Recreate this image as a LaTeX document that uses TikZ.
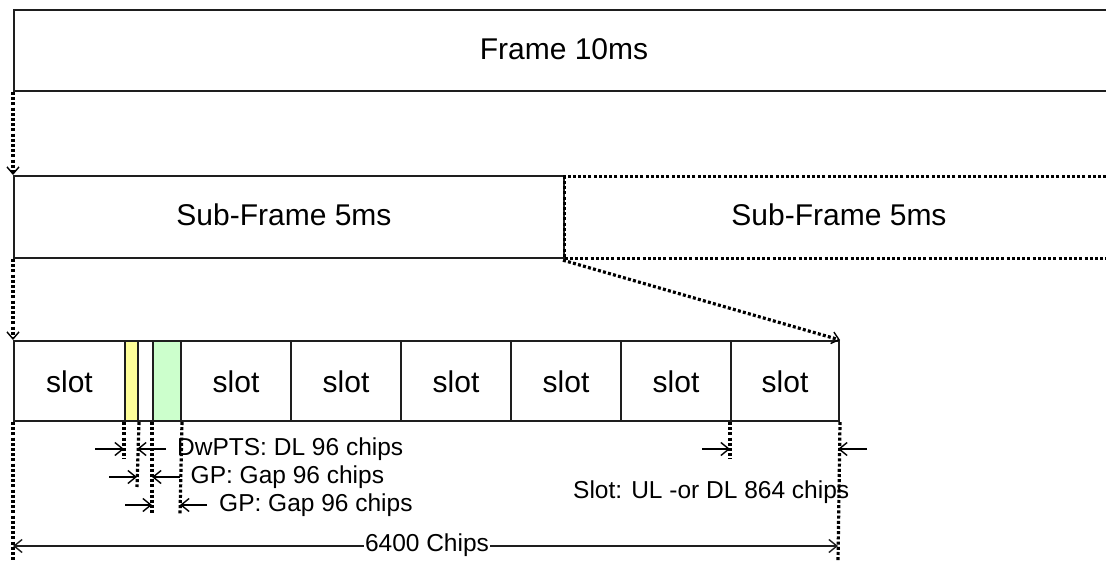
\documentclass[tikz,border=0pt]{standalone}
\usepackage{fontspec}
\setmainfont{Liberation Sans}
\usetikzlibrary{arrows.meta}
\definecolor{lineclr}{RGB}{30,30,30}
\definecolor{dwyellow}{RGB}{255,255,153}
\definecolor{upgreen}{RGB}{204,255,204}
\begin{document}
\begin{tikzpicture}[x=1pt,y=-1pt,
  bigtext/.style={font=\fontsize{30}{36}\selectfont},
  smalltext/.style={font=\fontsize{24.5}{29}\selectfont, inner sep=0pt},
  solidbox/.style={draw=lineclr, line width=2pt, inner sep=0pt, anchor=north west, bigtext},
  dotbox/.style={draw=black, line width=3.2pt, dash pattern=on 3pt off 2.2pt, inner sep=0pt, anchor=north west, bigtext},
  cell/.style={draw=lineclr, line width=2pt, inner sep=0pt, anchor=north west, minimum height=80pt, bigtext},
  dotline/.style={draw=black, line width=3.2pt, dash pattern=on 3pt off 2.2pt},
  dotarrow/.style={dotline, -{Straight Barb[length=7pt,width=12pt,line width=1.4pt]}},
  dimarrow/.style={draw=black, line width=1.5pt, -{Straight Barb[length=8pt,width=13pt,line width=1.4pt]}},
  dimboth/.style={draw=lineclr, line width=1.5pt, {Straight Barb[length=8pt,width=13pt,line width=1.4pt]}-{Straight Barb[length=8pt,width=13pt,line width=1.4pt]}}
]
\useasboundingbox (0,0) rectangle (1106,562);
\clip (0,0) rectangle (1106,562);

% frame and sub-frames
\node[solidbox, minimum width=1110pt, minimum height=81pt] (frame) at (13,9) {};
\node[bigtext, anchor=base] (frametxt) at (564,59) {Frame 10ms};
\node[solidbox, minimum width=550pt, minimum height=82pt] (sf1) at (13,175) {};
\node[bigtext, anchor=base] (sf1txt) at (284,225) {Sub-Frame 5ms};
\node[dotbox, minimum width=560pt, minimum height=82pt] (sf2) at (563,175) {};
\node[bigtext, anchor=base] (sf2txt) at (839,225) {Sub-Frame 5ms};

% slot row
\node[cell, minimum width=111pt] (c1) at (13,340) {};
\node[cell, minimum width=13pt, fill=dwyellow] (cy) at (124,340) {};
\node[cell, minimum width=15pt] (cw) at (137,340) {};
\node[cell, minimum width=28pt, fill=upgreen] (cg) at (152,340) {};
\node[cell, minimum width=110pt] (c2) at (180,340) {};
\node[cell, minimum width=110pt] (c3) at (290,340) {};
\node[cell, minimum width=110pt] (c4) at (400,340) {};
\node[cell, minimum width=110pt] (c5) at (510,340) {};
\node[cell, minimum width=110pt] (c6) at (620,340) {};
\node[cell, minimum width=108pt] (c7) at (730,340) {};
\foreach \c in {c1,c2,c3,c4,c5,c6,c7}
  \node[bigtext, anchor=base] at ([yshift=-11pt]\c.center) {slot};

% expansion arrows
\draw[dotarrow] (frame.south west) -- (sf1.north west);
\draw[dotarrow] (sf1.south west) -- (c1.north west);
\draw[dotarrow] (sf2.south west) -- (c7.north east);

% labels
\node[smalltext, anchor=base west] (dwtxt) at (177,455) {DwPTS: DL 96 chips};
\node[smalltext, anchor=base west] (gp1txt) at (190.5,483) {GP: Gap 96 chips};
\node[smalltext, anchor=base west] (gp2txt) at (219,511) {GP: Gap 96 chips};
\node[smalltext, anchor=base west] (slottxt) at (573,498) {Slot: UL -or DL 864 chips};

% dimension extension lines
\coordinate (e1) at (124,459);
\coordinate (e2) at (137,487);
\coordinate (e3) at (152,515);
\coordinate (e4) at (180,515);
\coordinate (e5) at (730,459);
\coordinate (eL) at (13,562);
\coordinate (eR) at (838,562);
\draw[dotline] (cy.south west) -- (e1);
\draw[dotline] (cy.south east) -- (e2);
\draw[dotline] (cg.south west) -- (e3);
\draw[dotline] (cg.south east) -- (e4);
\draw[dotline] (c7.south west) -- (e5);
\draw[dotline] (c1.south west) -- (eL);
\draw[dotline] (c7.south east) -- (eR);

% dimension arrows
\coordinate (a1s) at (95,449);   \coordinate (a1e) at (124,449);
\coordinate (a2s) at (166,449);  \coordinate (a2e) at (137,449);
\coordinate (b1s) at (109,477);  \coordinate (b1e) at (137,477);
\coordinate (b2s) at (180,477);  \coordinate (b2e) at (152,477);
\coordinate (g1s) at (125,505);  \coordinate (g1e) at (152,505);
\coordinate (g2s) at (207,505);  \coordinate (g2e) at (180,505);
\coordinate (s1s) at (702,449);  \coordinate (s1e) at (730,449);
\coordinate (s2s) at (867,449);  \coordinate (s2e) at (838,449);
\draw[dimarrow] (a1s) -- (a1e);
\draw[dimarrow] (a2s) -- (a2e);
\draw[dimarrow] (b1s) -- (b1e);
\draw[dimarrow] (b2s) -- (b2e);
\draw[dimarrow] (g1s) -- (g1e);
\draw[dimarrow] (g2s) -- (g2e);
\draw[dimarrow] (s1s) -- (s1e);
\draw[dimarrow] (s2s) -- (s2e);

% total
\coordinate (tL) at (13,546);
\coordinate (tR) at (838,546);
\draw[dimboth] (tL) -- (tR);
\node[smalltext, anchor=base, fill=white, inner xsep=1pt, inner ysep=1pt] (tot) at (427,551) {6400 Chips};
\end{tikzpicture}
\end{document}
